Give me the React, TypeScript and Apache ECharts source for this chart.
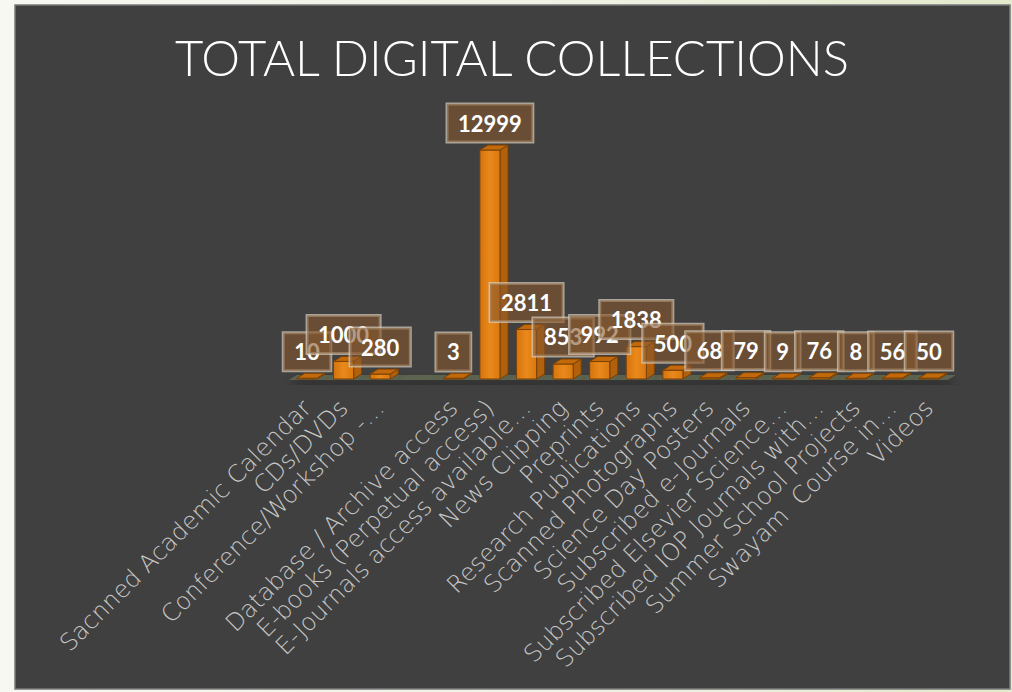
import React, { useEffect, useRef } from "react";
import * as echarts from "echarts";

const categories: string[] = [
  "Sacnned Academic Calendar",
  "CDs/DVDs",
  "Conference/Workshop -…",
  "",
  "Database / Archive access",
  "E-books (Perpetual access)",
  "E-Journals access available…",
  "News Clipping",
  "Preprints",
  "Research Publications",
  "Scanned Photographs",
  "Science Day Posters",
  "Subscribed e-Journals",
  "Subscribed Elsevier Science…",
  "Subscribed IOP Journals with…",
  "Summer School Projects",
  "Swayam  Course in…",
  "Videos",
];

const values: (number | null)[] = [
  10, 1000, 280, null, 3, 12999, 2811, 853, 992, 1838, 500, 68, 79, 9, 76, 8, 56, 50,
];

const titleText = "TOTAL DIGITAL COLLECTIONS";

const DX = 8;
const DY = 5;

export default function App() {
  const ref = useRef<HTMLDivElement>(null);

  useEffect(() => {
    document.body.style.margin = "0";
    if (!ref.current) return;
    const chart = echarts.init(ref.current, undefined, { renderer: "svg" });

    const floorRender = (params: any, api: any) => {
      const i = api.value(0);
      const p = api.coord([i, 0]);
      const band = api.size([1, 0])[0];
      const x = p[0];
      const y = p[1] + 1;
      return {
        type: "polygon",
        shape: {
          points: [
            [x - band / 2, y],
            [x + band / 2 + 0.5, y],
            [x + band / 2 + DX + 0.5, y - DY],
            [x - band / 2 + DX, y - DY],
          ],
        },
        style: {
          fill: "#5c6350",
          shadowColor: "rgba(0,0,0,0.45)",
          shadowBlur: 10,
          shadowOffsetY: 6,
        },
      };
    };

    const barRender = (params: any, api: any) => {
      const v = values[params.dataIndex];
      if (v == null) return { type: "group", children: [] };
      const i = api.value(0);
      const base = api.coord([i, 0]);
      const top = api.coord([i, v]);
      const band = api.size([1, 0])[0];
      const w = band * 0.55;
      const xl = base[0] - w / 2;
      const xr = base[0] + w / 2;
      const yb = base[1];
      const yt = Math.min(top[1], yb - 0.8);
      const stroke = "#7a4106";
      return {
        type: "group",
        children: [
          {
            type: "polygon",
            shape: {
              points: [
                [xr, yb],
                [xr + DX, yb - DY],
                [xr + DX, yt - DY],
                [xr, yt],
              ],
            },
            style: { fill: "#b1600b", stroke, lineWidth: 1 },
          },
          {
            type: "rect",
            shape: { x: xl, y: yt, width: w, height: yb - yt },
            style: {
              fill: new echarts.graphic.LinearGradient(0, 0, 1, 0, [
                { offset: 0, color: "#d5730d" },
                { offset: 0.5, color: "#ea891b" },
                { offset: 1, color: "#d9780f" },
              ]),
              stroke,
              lineWidth: 1,
            },
          },
          {
            type: "polygon",
            shape: {
              points: [
                [xl, yt],
                [xr, yt],
                [xr + DX, yt - DY],
                [xl + DX, yt - DY],
              ],
            },
            style: { fill: "#c2690c", stroke, lineWidth: 1 },
          },
        ],
      };
    };

    chart.setOption({
      animation: false,
      graphic: [
        {
          type: "rect",
          z: -10,
          silent: true,
          shape: { x: 15, y: 5, width: 995, height: 684 },
          style: { fill: "#404040", stroke: "#7a7a7a", lineWidth: 1.5 },
        },
        {
          type: "text",
          z: 10,
          x: 512,
          y: 57,
          style: {
            text: titleText,
            fill: "#ffffff",
            font: "300 49px Lato",
            align: "center",
            verticalAlign: "middle",
          },
        },
      ],
      grid: { left: 288.7, right: 64.7, top: 132.4, bottom: 313 },
      xAxis: {
        type: "category",
        data: categories,
        axisLine: { show: false },
        axisTick: { show: false },
        splitLine: { show: false },
        axisLabel: {
          interval: 0,
          rotate: 45,
          margin: 25,
          color: "#c8c8c8",
          fontSize: 24,
          fontFamily: "DejaVu Sans",
          fontWeight: 200,
        },
      },
      yAxis: {
        type: "value",
        min: 0,
        max: 14000,
        show: false,
        splitLine: { show: false },
      },
      series: [
        {
          type: "custom",
          z: 1,
          renderItem: floorRender,
          data: categories.map((_, i) => [i, 0]),
          silent: true,
        },
        {
          type: "custom",
          z: 2,
          renderItem: barRender,
          data: values.map((v, i) => [i, v == null ? 0 : v]),
          silent: true,
        },
        {
          type: "bar",
          z: 5,
          barWidth: 20,
          data: values,
          itemStyle: { color: "rgba(0,0,0,0)" },
          silent: true,
          label: {
            show: true,
            position: "top",
            distance: 8,
            color: "#ffffff",
            fontWeight: "bold",
            fontSize: 22,
            lineHeight: 22,
            fontFamily: "Lato",
            backgroundColor: "rgba(133,89,47,0.6)",
            borderColor: "rgba(215,205,190,0.7)",
            borderWidth: 1.5,
            padding: [8, 11, 8, 11],
          },
        },
      ],
    });

    return () => chart.dispose();
  }, []);

  return (
    <div
      style={{
        position: "fixed",
        left: 0,
        top: 0,
        width: 1012,
        height: 692,
        background: "linear-gradient(90deg, #f7f8f2 0%, #eef1e2 60%, #e2e9cc 100%)",
      }}
    >
      <div ref={ref} style={{ width: 1012, height: 692 }} />
    </div>
  );
}
